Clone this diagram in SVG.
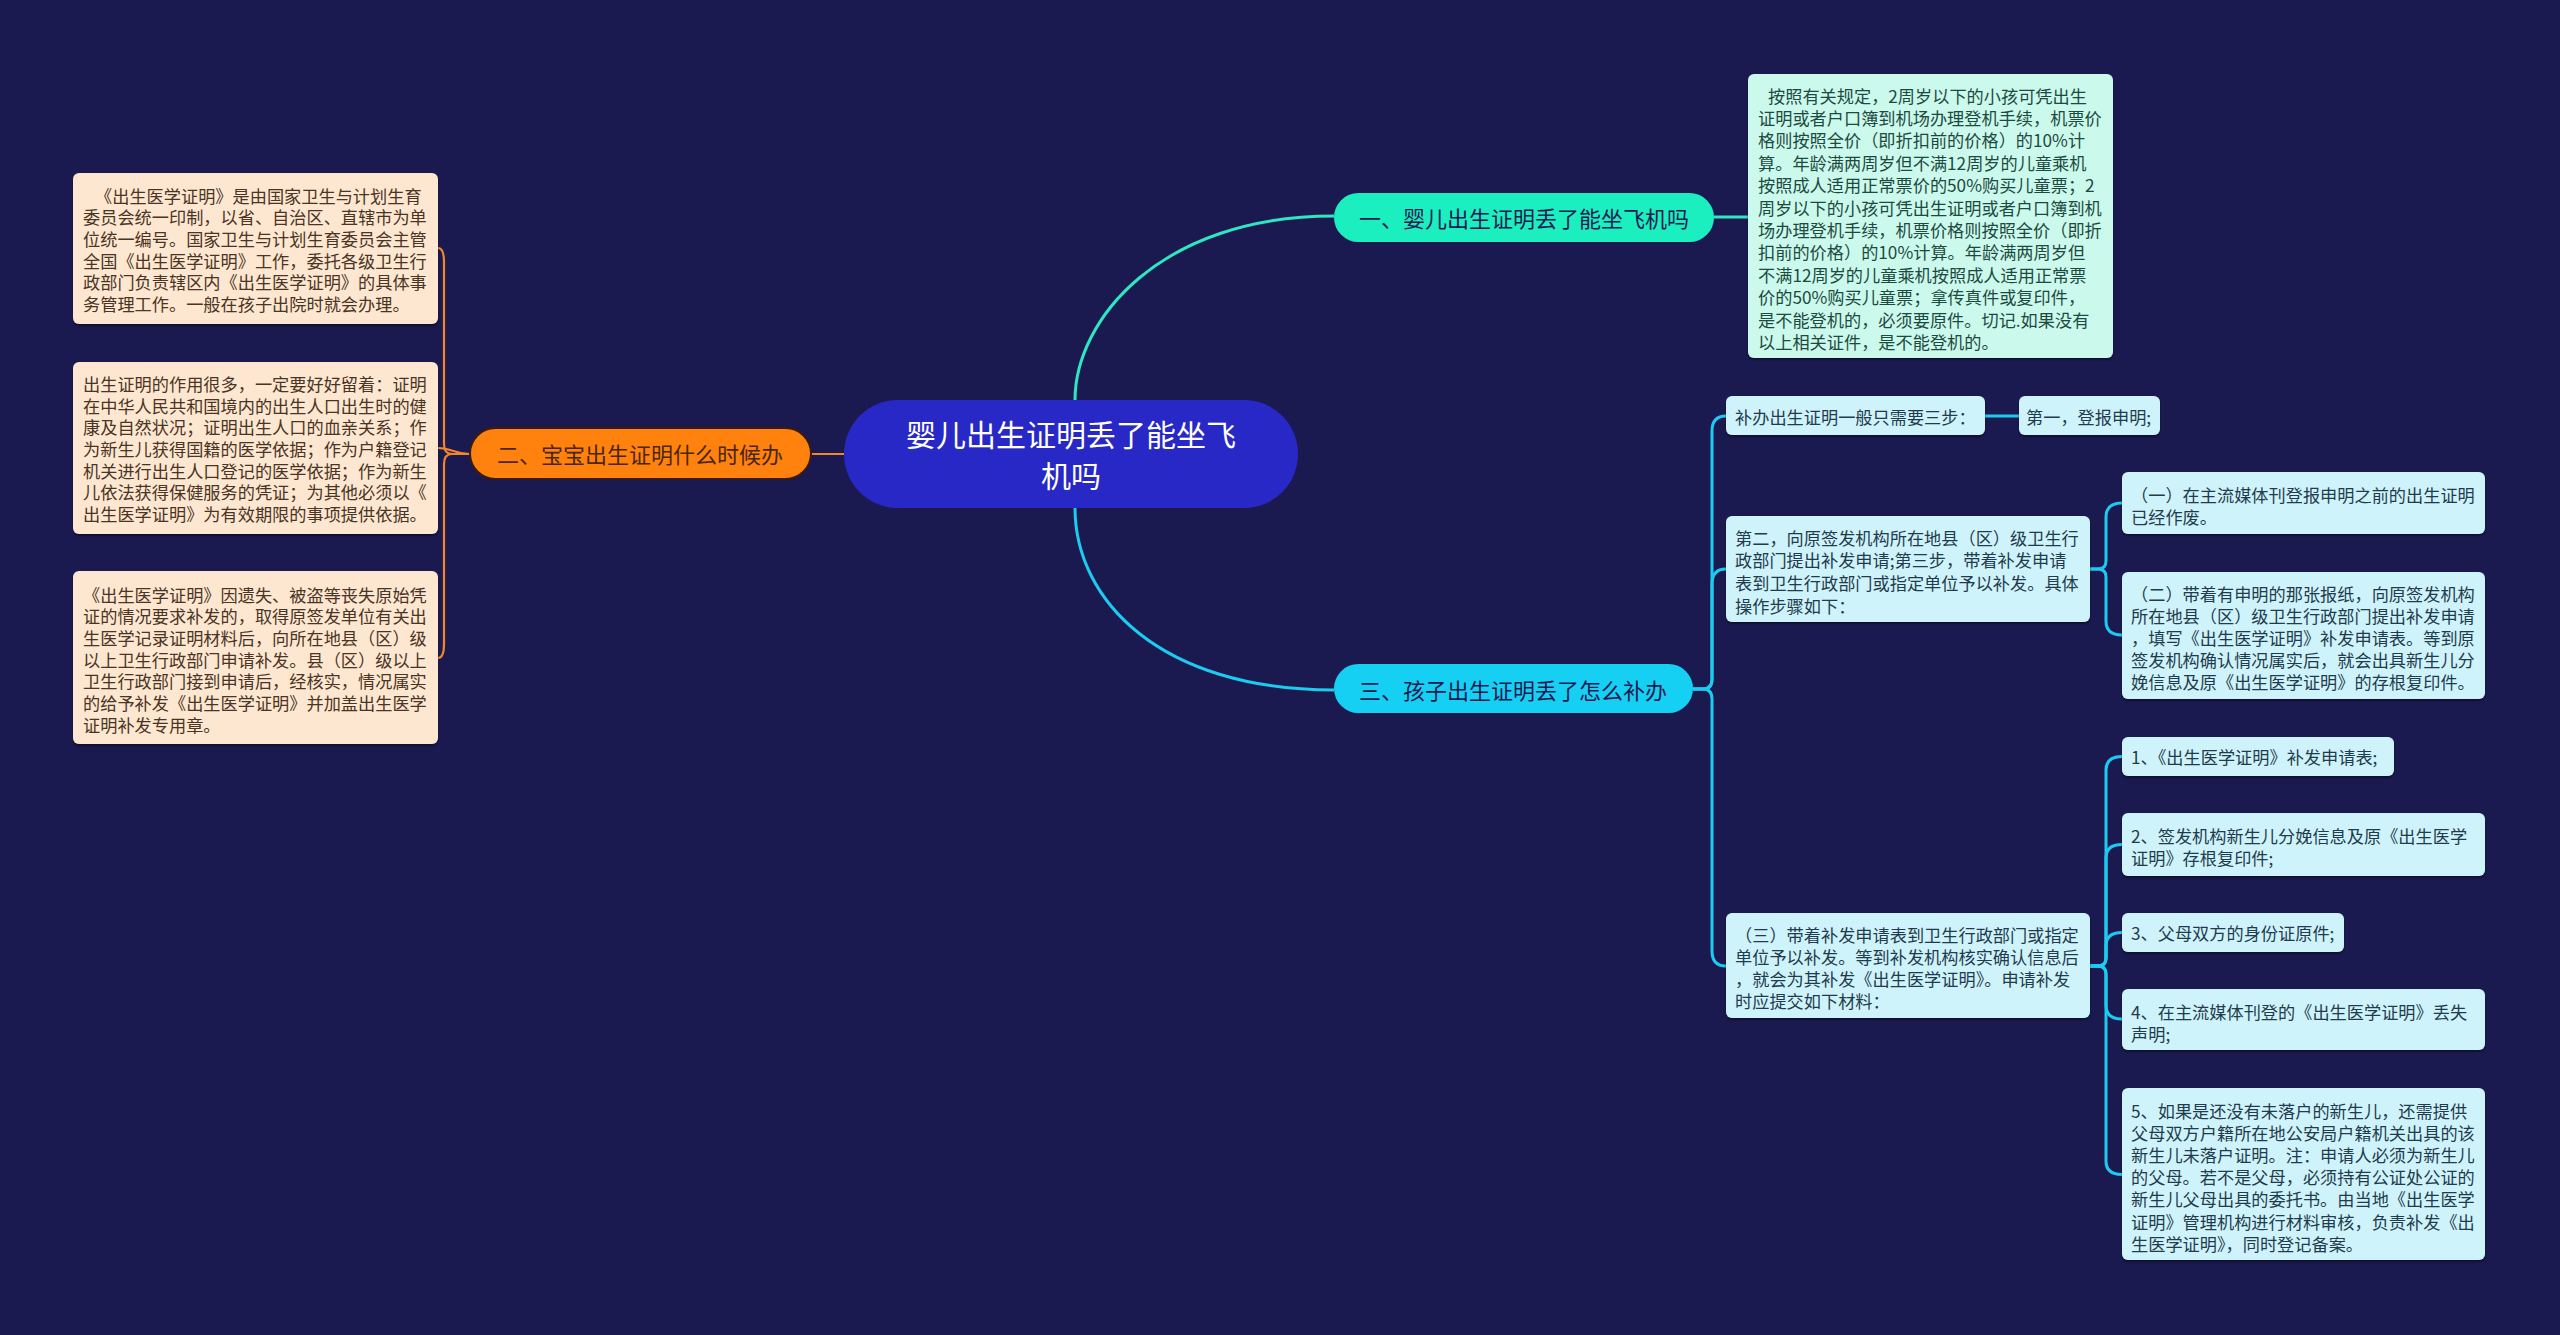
<svg xmlns="http://www.w3.org/2000/svg" width="2560" height="1335" viewBox="0 0 2560 1335">
<style>
text{font-family:"Noto Sans CJK SC","Noto Sans",sans-serif;dominant-baseline:central}
.t{font-size:17.2px}
.peach{fill:#fde7d1}
.mint{fill:#cbf9ec}
.cyan{fill:#cff3fa}
.tp{fill:#4a3424}
.tm{fill:#1d4a40}
.tc{fill:#1f3b4d}
.lt{stroke:#2ee6c2;stroke-width:3;fill:none}
.lc{stroke:#1ecbf0;stroke-width:3;fill:none}
.lo{stroke:#f2862a;stroke-width:2.2;fill:none}
</style>
<defs>
<filter id="sh" x="-5%" y="-5%" width="110%" height="120%">
<feDropShadow dx="0" dy="2" stdDeviation="1" flood-color="#000" flood-opacity="0.45"/>
</filter>
</defs>
<rect width="2560" height="1335" fill="#1b1a50"/>

<g id="connectors">
<path class="lt" d="M1075,400 C1075,320 1160,216 1334,216"/>
<path class="lc" d="M1075,508 C1075,600 1160,690 1334,690"/>
<path class="lo" stroke-width="3" d="M844,454 H811"/>
<path class="lt" d="M1714,217 H1749"/>
<path class="lo" d="M470,454 H452 Q444,454 444,444 V262 Q444,248 438,248"/>
<path class="lo" d="M470,454 C455,454 452,448 438,448"/>
<path class="lo" d="M470,454 H452 Q444,454 444,464 V644 Q444,658 438,658"/>
<path class="lc" d="M1693,689 H1703 Q1712,689 1712,679 V431 Q1712,416 1726,416"/>
<path class="lc" d="M1693,689 H1703 Q1712,689 1712,679 V584 Q1712,569 1726,569"/>
<path class="lc" d="M1693,689 H1703 Q1712,689 1712,699 V951 Q1712,966 1726,966"/>
<path class="lc" stroke-width="4" d="M1985,416 H2019"/>
<path class="lc" d="M2090,569 H2098 Q2106,569 2106,561 V517 Q2106,503 2122,503"/>
<path class="lc" d="M2090,569 H2098 Q2106,569 2106,577 V621 Q2106,635 2122,635"/>
<path class="lc" d="M2090,966 H2098 Q2106,966 2106,958 V770 Q2106,756.5 2122,756.5"/>
<path class="lc" d="M2090,966 H2098 Q2106,966 2106,958 V858 Q2106,844.5 2122,844.5"/>
<path class="lc" d="M2090,966 H2098 Q2106,966 2106,958 V946 Q2106,932.5 2122,932.5"/>
<path class="lc" d="M2090,966 H2098 Q2106,966 2106,974 V1005 Q2106,1019 2122,1019"/>
<path class="lc" d="M2090,966 H2098 Q2106,966 2106,974 V1161 Q2106,1174.5 2122,1174.5"/>
</g>

<g id="center">
<rect x="844" y="400" width="454" height="108" rx="54" fill="#2828c6"/>
<text x="1071" y="433" font-size="30" fill="#ffffff" text-anchor="middle">婴儿出生证明丢了能坐飞</text>
<text x="1071" y="474" font-size="30" fill="#ffffff" text-anchor="middle">机吗</text>
</g>

<g id="branch1">
<rect x="1334" y="193" width="380" height="49" rx="24.5" fill="#1cefbf"/>
<text x="1524" y="217" font-size="22" fill="#1b1a50" text-anchor="middle">一、婴儿出生证明丢了能坐飞机吗</text>
</g>

<g id="branch2">
<rect x="470" y="428" width="341" height="51" rx="25.5" fill="#ff820f" stroke="#3a1c0c" stroke-width="2"/>
<text x="640" y="453" font-size="22" fill="#4b2608" text-anchor="middle">二、宝宝出生证明什么时候办</text>
</g>

<g id="branch3">
<rect x="1334" y="664" width="359" height="49" rx="24.5" fill="#16d0f4"/>
<text x="1513" y="689" font-size="22" fill="#1b1a50" text-anchor="middle">三、孩子出生证明丢了怎么补办</text>
</g>

<g id="leaf1">
<rect class="mint" x="1748" y="74" width="365" height="284" rx="6" filter="url(#sh)"/>
<g class="t tm">
<text x="1768" y="95">按照有关规定，2周岁以下的小孩可凭出生</text>
<text x="1758" y="117.4">证明或者户口簿到机场办理登机手续，机票价</text>
<text x="1758" y="139.8">格则按照全价（即折扣前的价格）的10%计</text>
<text x="1758" y="162.2">算。年龄满两周岁但不满12周岁的儿童乘机</text>
<text x="1758" y="184.6">按照成人适用正常票价的50%购买儿童票；2</text>
<text x="1758" y="207">周岁以下的小孩可凭出生证明或者户口簿到机</text>
<text x="1758" y="229.4">场办理登机手续，机票价格则按照全价（即折</text>
<text x="1758" y="251.8">扣前的价格）的10%计算。年龄满两周岁但</text>
<text x="1758" y="274.2">不满12周岁的儿童乘机按照成人适用正常票</text>
<text x="1758" y="296.6">价的50%购买儿童票；拿传真件或复印件，</text>
<text x="1758" y="319">是不能登机的，必须要原件。切记.如果没有</text>
<text x="1758" y="341.4">以上相关证件，是不能登机的。</text>
</g>
</g>

<g id="leaf2a">
<rect class="peach" x="73" y="173" width="365" height="151" rx="6" filter="url(#sh)"/>
<g class="t tp">
<text x="95" y="195">《出生医学证明》是由国家卫生与计划生育</text>
<text x="83" y="216.7">委员会统一印制，以省、自治区、直辖市为单</text>
<text x="83" y="238.3">位统一编号。国家卫生与计划生育委员会主管</text>
<text x="83" y="260">全国《出生医学证明》工作，委托各级卫生行</text>
<text x="83" y="281.7">政部门负责辖区内《出生医学证明》的具体事</text>
<text x="83" y="303.3">务管理工作。一般在孩子出院时就会办理。</text>
</g>
</g>

<g id="leaf2b">
<rect class="peach" x="73" y="362" width="365" height="172" rx="6" filter="url(#sh)"/>
<g class="t tp">
<text x="83" y="383.3">出生证明的作用很多，一定要好好留着：证明</text>
<text x="83" y="405">在中华人民共和国境内的出生人口出生时的健</text>
<text x="83" y="426.7">康及自然状况；证明出生人口的血亲关系；作</text>
<text x="83" y="448.3">为新生儿获得国籍的医学依据；作为户籍登记</text>
<text x="83" y="470">机关进行出生人口登记的医学依据；作为新生</text>
<text x="83" y="491.7">儿依法获得保健服务的凭证；为其他必须以《</text>
<text x="83" y="513.3">出生医学证明》为有效期限的事项提供依据。</text>
</g>
</g>

<g id="leaf2c">
<rect class="peach" x="73" y="571" width="365" height="173" rx="6" filter="url(#sh)"/>
<g class="t tp">
<text x="83" y="594">《出生医学证明》因遗失、被盗等丧失原始凭</text>
<text x="83" y="615.7">证的情况要求补发的，取得原签发单位有关出</text>
<text x="83" y="637.3">生医学记录证明材料后，向所在地县（区）级</text>
<text x="83" y="659">以上卫生行政部门申请补发。县（区）级以上</text>
<text x="83" y="680.7">卫生行政部门接到申请后，经核实，情况属实</text>
<text x="83" y="702.3">的给予补发《出生医学证明》并加盖出生医学</text>
<text x="83" y="724">证明补发专用章。</text>
</g>
</g>

<g id="n3a">
<rect class="cyan" x="1726" y="396" width="259" height="39" rx="6" filter="url(#sh)"/>
<text class="t tc" x="1735" y="416">补办出生证明一般只需要三步：</text>
</g>

<g id="n3a1">
<rect class="cyan" x="2019" y="396" width="141" height="39" rx="6" filter="url(#sh)"/>
<text class="t tc" x="2026" y="416">第一，登报申明;</text>
</g>

<g id="n3b">
<rect class="cyan" x="1726" y="516" width="364" height="106" rx="6" filter="url(#sh)"/>
<g class="t tc">
<text x="1735" y="537">第二，向原签发机构所在地县（区）级卫生行</text>
<text x="1735" y="559.7">政部门提出补发申请;第三步，带着补发申请</text>
<text x="1735" y="582.3">表到卫生行政部门或指定单位予以补发。具体</text>
<text x="1735" y="605">操作步骤如下：</text>
</g>
</g>

<g id="n3b1">
<rect class="cyan" x="2122" y="472" width="363" height="62" rx="6" filter="url(#sh)"/>
<g class="t tc">
<text x="2131" y="494">（一）在主流媒体刊登报申明之前的出生证明</text>
<text x="2131" y="516.7">已经作废。</text>
</g>
</g>

<g id="n3b2">
<rect class="cyan" x="2122" y="572" width="363" height="127" rx="6" filter="url(#sh)"/>
<g class="t tc">
<text x="2131" y="593">（二）带着有申明的那张报纸，向原签发机构</text>
<text x="2131" y="615">所在地县（区）级卫生行政部门提出补发申请</text>
<text x="2131" y="637.3">，填写《出生医学证明》补发申请表。等到原</text>
<text x="2131" y="659.5">签发机构确认情况属实后，就会出具新生儿分</text>
<text x="2131" y="681.7">娩信息及原《出生医学证明》的存根复印件。</text>
</g>
</g>

<g id="n3c">
<rect class="cyan" x="1726" y="913" width="364" height="105" rx="6" filter="url(#sh)"/>
<g class="t tc">
<text x="1735" y="934">（三）带着补发申请表到卫生行政部门或指定</text>
<text x="1735" y="956.5">单位予以补发。等到补发机构核实确认信息后</text>
<text x="1735" y="978.5">，就会为其补发《出生医学证明》。申请补发</text>
<text x="1735" y="1000.7">时应提交如下材料：</text>
</g>
</g>

<g id="n3c1">
<rect class="cyan" x="2122" y="737" width="272" height="39" rx="6" filter="url(#sh)"/>
<text class="t tc" x="2131" y="756.5">1、《出生医学证明》补发申请表;</text>
</g>

<g id="n3c2">
<rect class="cyan" x="2122" y="813" width="363" height="63" rx="6" filter="url(#sh)"/>
<g class="t tc">
<text x="2131" y="835">2、签发机构新生儿分娩信息及原《出生医学</text>
<text x="2131" y="857">证明》存根复印件;</text>
</g>
</g>

<g id="n3c3">
<rect class="cyan" x="2122" y="913" width="222" height="39" rx="6" filter="url(#sh)"/>
<text class="t tc" x="2131" y="932.5">3、父母双方的身份证原件;</text>
</g>

<g id="n3c4">
<rect class="cyan" x="2122" y="989" width="363" height="61" rx="6" filter="url(#sh)"/>
<g class="t tc">
<text x="2131" y="1011.7">4、在主流媒体刊登的《出生医学证明》丢失</text>
<text x="2131" y="1033.5">声明;</text>
</g>
</g>

<g id="n3c5">
<rect class="cyan" x="2122" y="1088" width="363" height="172" rx="6" filter="url(#sh)"/>
<g class="t tc">
<text x="2131" y="1110">5、如果是还没有未落户的新生儿，还需提供</text>
<text x="2131" y="1132.3">父母双方户籍所在地公安局户籍机关出具的该</text>
<text x="2131" y="1154.5">新生儿未落户证明。注：申请人必须为新生儿</text>
<text x="2131" y="1176.7">的父母。若不是父母，必须持有公证处公证的</text>
<text x="2131" y="1198.8">新生儿父母出具的委托书。由当地《出生医学</text>
<text x="2131" y="1221">证明》管理机构进行材料审核，负责补发《出</text>
<text x="2131" y="1243">生医学证明》，同时登记备案。</text>
</g>
</g>
</svg>
